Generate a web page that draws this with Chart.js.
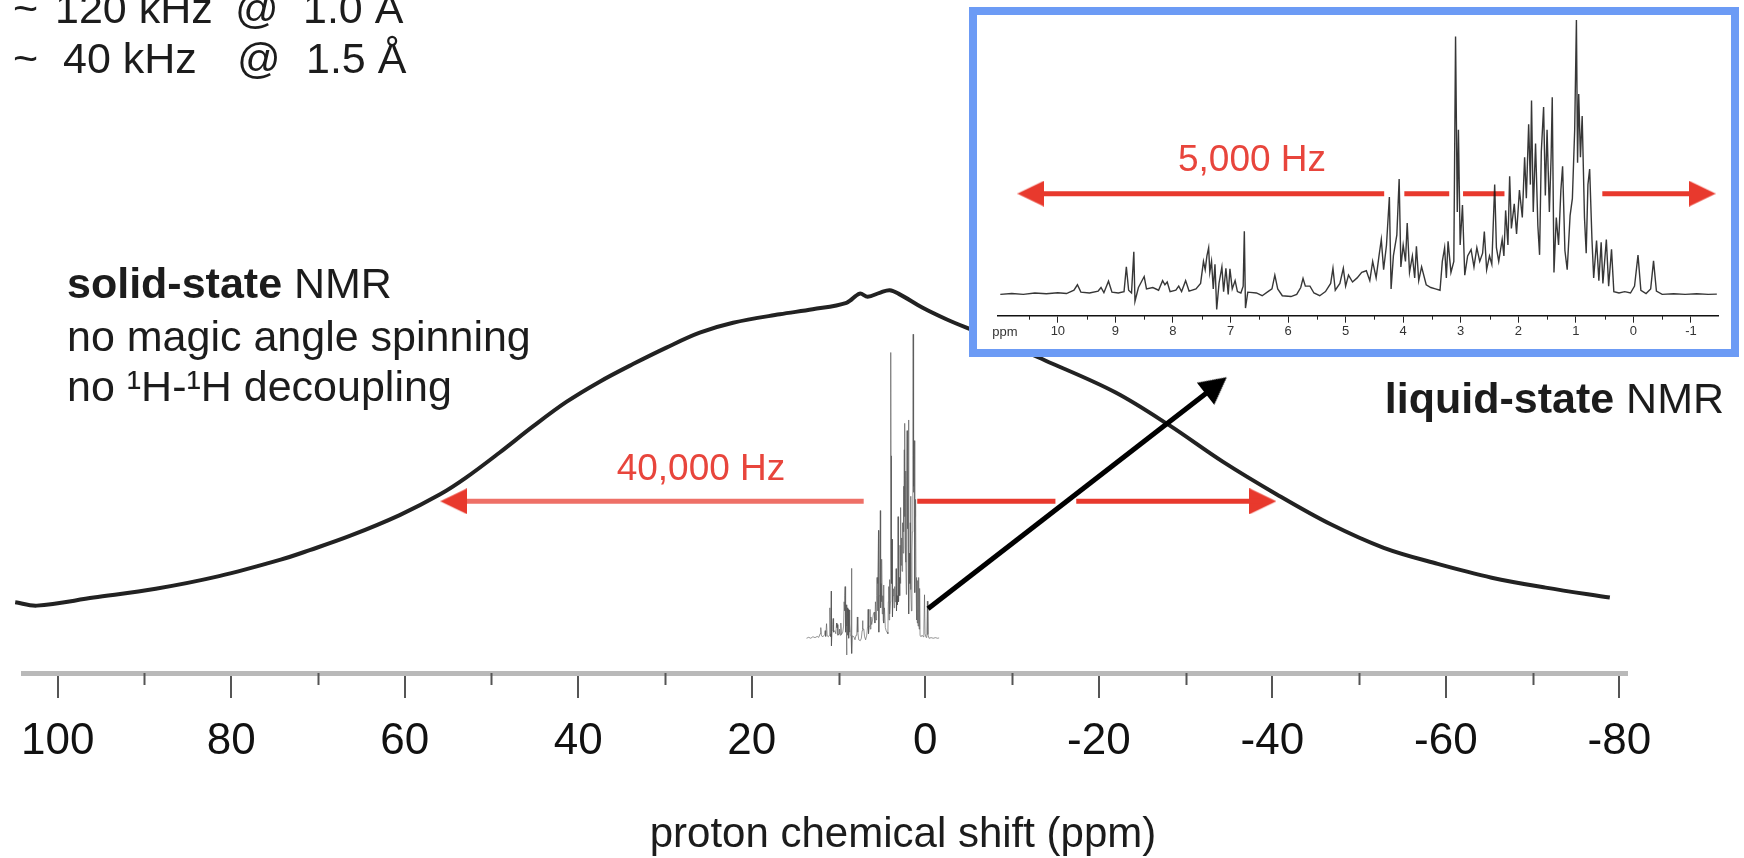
<!DOCTYPE html>
<html>
<head>
<meta charset="utf-8">
<title>Solid-state vs liquid-state proton NMR</title>
<script src="https://cdn.jsdelivr.net/npm/chart.js"></script>
<style>
    body {
        margin: 0;
        background: #fff;
        font-family: 'Liberation Sans', Arial, sans-serif;
    }
    #wrap {
        position: relative;
        width: 1744px;
        height: 858px;
        overflow: hidden;
        background: #fff;
    }
    #mainChart { position: absolute; left: 0; top: 0; }
    #inset {
        position: absolute;
        left: 969px; top: 7px;
        width: 770px; height: 350px;
        box-sizing: border-box;
        border: 8px solid #6c9bf5;
        background: #fff;
        z-index: 2;
    }
    #insetChart { position: absolute; left: 0; top: 0; }
    .txt {
        position: absolute;
        white-space: pre;
        color: #1c1c1c;
        font-size: 43px;
        line-height: 1;
        z-index: 3;
    }
    .red { color: #e8453c; font-size: 37px; text-align: center; width: 300px; }
    b { font-weight: bold; }
</style>
</head>
<body>
<div id="wrap">
    <canvas id="mainChart" width="1744" height="858"></canvas>

    <div id="inset">
        <canvas id="insetChart" width="754" height="334"></canvas>
    </div>

    <!-- top-left numbers -->
    <div class="txt" style="left:13px; top:-13px;">~</div>
    <div class="txt" style="left:55px; top:-13px;">120 kHz</div>
    <div class="txt" style="left:235px; top:-13px;">@</div>
    <div class="txt" style="left:303px; top:-13px;">1.0 Å</div>
    <div class="txt" style="left:13px; top:37px;">~</div>
    <div class="txt" style="left:63px; top:37px;">40 kHz</div>
    <div class="txt" style="left:237px; top:37px;">@</div>
    <div class="txt" style="left:306px; top:37px;">1.5 Å</div>

    <div class="txt" style="left:67px; top:262px;"><b>solid-state</b> NMR</div>
    <div class="txt" style="left:67px; top:315px;">no magic angle spinning</div>
    <div class="txt" style="left:67px; top:365px;">no ¹H-¹H decoupling</div>

    <div class="txt" style="right:20px; top:377px;"><b>liquid-state</b> NMR</div>

    <div class="txt red" style="left:551px; top:449px;">40,000 Hz</div>
    <div class="txt red" style="left:1102px; top:140px;">5,000 Hz</div>

    <div class="txt" style="left:985px; top:325px; width:40px; text-align:center; font-size:13px; color:#333;">ppm</div>

    <div class="txt" style="left:603px; top:812px; width:600px; text-align:center; font-size:42px;">proton chemical shift (ppm)</div>
</div>

<script>
    // broad solid-state line: chemical shift (ppm) and intensity (1 = top of the hump)
    const solidPpm = [104.9, 102.4, 95.85, 88.7, 81.4, 74.3, 70.95, 66.34, 60.58, 55.97, 52.89, 49.05, 45.22,
        41.37, 37.53, 33.69, 29.84, 26.0, 22.16, 16.78, 12.98, 9.09, 7.56, 6.64, 5.26, 4.10, 2.95, 0.30,
        -2.43, -4.74, -9.15, -13.76, -21.83, -28.06, -34.28, -40.47, -46.68, -52.84, -59.06, -65.28, -71.5, -78.9];
    const solidInt = [0.185, 0.176, 0.197, 0.220, 0.253, 0.296, 0.321, 0.358, 0.4125, 0.466, 0.511, 0.576, 0.644,
        0.708, 0.761, 0.807, 0.850, 0.889, 0.915, 0.937, 0.950, 0.967, 0.991, 0.983, 0.993, 1.0, 0.989, 0.954,
        0.924, 0.902, 0.863, 0.817, 0.734, 0.648, 0.552, 0.467, 0.389, 0.327, 0.285, 0.249, 0.223, 0.197];

    // liquid-state spectrum: ppm and intensity (100 = tallest peak)
    const liqPpm = [11.0, 10.8, 10.6, 10.4, 10.2, 10.0, 9.85, 9.72, 9.66, 9.6, 9.45, 9.3, 9.25, 9.2, 9.12, 9.06,
        8.95, 8.85, 8.81, 8.77, 8.72, 8.68, 8.66, 8.6, 8.55, 8.5, 8.46, 8.35, 8.25, 8.18, 8.14, 8.1, 8.05,
        7.95, 7.9, 7.85, 7.78, 7.72, 7.6, 7.52, 7.47, 7.44, 7.41, 7.38, 7.36, 7.33, 7.3, 7.27, 7.24, 7.2,
        7.15, 7.12, 7.08, 7.04, 7.01, 6.97, 6.92, 6.88, 6.82, 6.78, 6.76, 6.74, 6.7, 6.55, 6.45, 6.35, 6.28,
        6.23, 6.18, 6.1, 5.95, 5.85, 5.78, 5.74, 5.7, 5.62, 5.55, 5.45, 5.35, 5.26, 5.22, 5.18, 5.1, 5.04,
        5.0, 4.95, 4.88, 4.8, 4.72, 4.64, 4.58, 4.53, 4.47, 4.42, 4.38, 4.34, 4.29, 4.24, 4.21, 4.17, 4.11,
        4.07, 4.04, 4.0, 3.96, 3.93, 3.89, 3.84, 3.8, 3.77, 3.73, 3.68, 3.6, 3.52, 3.44, 3.36, 3.32, 3.28,
        3.25, 3.22, 3.17, 3.12, 3.09, 3.06, 3.04, 3.01, 2.97, 2.93, 2.88, 2.82, 2.77, 2.72, 2.67, 2.62, 2.59,
        2.55, 2.5, 2.46, 2.41, 2.38, 2.34, 2.28, 2.25, 2.22, 2.18, 2.15, 2.12, 2.07, 2.03, 1.98, 1.93, 1.89,
        1.86, 1.82, 1.79, 1.77, 1.74, 1.7, 1.66, 1.63, 1.6, 1.56, 1.53, 1.5, 1.46, 1.43, 1.41, 1.38, 1.34,
        1.3, 1.26, 1.23, 1.19, 1.15, 1.1, 1.06, 1.02, 0.99, 0.97, 0.95, 0.92, 0.89, 0.85, 0.82, 0.79, 0.76,
        0.72, 0.69, 0.64, 0.6, 0.56, 0.53, 0.47, 0.43, 0.38, 0.34, 0.25, 0.15, 0.05, -0.02, -0.08, -0.13,
        -0.22, -0.3, -0.35, -0.4, -0.5, -0.7, -0.9, -1.1, -1.3, -1.45];
    const liqInt = [0, 0.3, 0, 0.5, 0.2, 0.6, 0.3, 1.5, 3.5, 0.8, 0.5, 1.2, 2.5, 0.6, 4.8, 0.8,
        0.5, 1.0, 10, 1.5, 0.5, 15.5, -2.5, 2.5, 4.5, 6.5, 2, 2.5, 1.5, 5, 3.5, 4.5, 1,
        1.5, 3, 1, 5, 1.2, 2, 4, 12, 9, 14, 17, 8, 12, 2, 11, -5.5, 4,
        10, 1, 9.5, 0, 9.3, 2, 5, 1, 0.5, 3, 23, -5, 0.8, 0.5, -0.5, 1, 2,
        7, 2, -0.5, -0.8, 0, 2.5, 5.8, 3, 3, 0.5, -0.5, 1, 4, 9.5, 1.5, 4, 9.5,
        3, 7, 4.5, 6, 8, 8.6, 5, 12, 6, 14, 20, 9, 18, 35.5, 2, 14, 21.7,
        42, 10, 18, 12, 26, 8, 14, 6, 17.5, 5, 10, 3.5, 2.5, 2, 1.5, 12, 17,
        6, 19.3, 8, 12, 94, 30, 60, 18, 32.6, 7, 14, 16.3, 10, 17, 12, 15, 22.9,
        9, 14, 11, 40, 17, 12, 20, 14, 30.6, 18, 43, 24, 33, 22, 38, 28, 50,
        35, 62, 40, 70.7, 30, 55, 25, 14.4, 52, 68.3, 36, 60, 30, 50, 71.8, 8, 28,
        18, 38, 46.7, 16, 9, 28.7, 35, 60, 100, 48, 73, 50, 65, 28, 15, 40, 45.7,
        20, 6, 19.6, 5, 19, 4, 20, 3, 16.4, 1, 0.5, 1, 0.5, 3, 14.3, 1.5,
        0.3, 2, 12.2, 1.2, 0, 0.2, 0, 0.2, 0, 0.1];

    const mainTickValues = [100, 80, 60, 40, 20, 0, -20, -40, -60, -80];
    const insetTickValues = [10, 9, 8, 7, 6, 5, 4, 3, 2, 1, 0, -1];

    // 40,000 Hz arrow (ppm, intensity on the solid-state scale)
    const hzLeftPpm = [54.35, 7.1];
    const hzRightPpm = [0.93, -15.0, null, -17.4, -38.91];
    const hzLevel = 0.4485;
    // black arrow from the narrow spectrum to the inset
    const pointerPpm = [-0.31, -33.53];
    const pointerInt = [0.168, 0.751];
    // 5,000 Hz arrow inside the inset (ppm, intensity)
    const insetArrowPpm = [10.47, 4.33, null, 3.98, 3.20, null, 2.96, 2.24, null, 0.54, -1.196];
    const insetArrowLevel = 36.7;

    const FONT = "'Liberation Sans', Arial, sans-serif";
    const RED = '#e8392d';

    function makeHead(color, w, h) {
        const c = document.createElement('canvas');
        c.width = w; c.height = h;
        const g = c.getContext('2d');
        g.fillStyle = color;
        g.beginPath();
        g.moveTo(w / 2, 0);
        g.lineTo(w, h);
        g.lineTo(0, h);
        g.closePath();
        g.fill();
        return c;
    }
    const redHead = makeHead(RED, 26, 27);
    const blackHead = makeHead('#000', 28, 27);

    function pts(xs, ys) {
        return xs.map((x, i) => (x === null ? { x: NaN, y: null } : { x: x, y: Array.isArray(ys) ? ys[i] : ys }));
    }

    function isMult(v, step) {
        const r = v / step;
        return Math.abs(r - Math.round(r)) < 1e-6;
    }

    // short ticks between the labelled ones
    function minorTicks(majorStep, len, color, width, maxVal) {
        return {
            id: 'minorTicks',
            afterDraw(chart) {
                const s = chart.scales.x;
                const ctx = chart.ctx;
                ctx.save();
                ctx.strokeStyle = color;
                ctx.lineWidth = width;
                s.ticks.forEach(t => {
                    if (isMult(t.value, majorStep) || t.value > maxVal) return;
                    const px = Math.round(s.getPixelForValue(t.value)) + 0.5;
                    ctx.beginPath();
                    ctx.moveTo(px, s.top);
                    ctx.lineTo(px, s.top + len);
                    ctx.stroke();
                });
                ctx.restore();
            }
        };
    }

    new Chart(document.getElementById('mainChart'), {
        type: 'scatter',
        data: {
            datasets: [
                {   // black pointer
                    data: pts(pointerPpm, pointerInt), showLine: true,
                    borderColor: '#000', borderWidth: 5, pointRadius: 0
                },
                {
                    data: pts([pointerPpm[1]], [pointerInt[1]]), pointStyle: blackHead,
                    rotation: 52, pointRadius: 1
                },
                {
                    data: pts(hzRightPpm, hzLevel), showLine: true, spanGaps: false,
                    borderColor: RED, borderWidth: 5, pointRadius: 0
                },
                {
                    data: pts([hzRightPpm[4]], hzLevel), pointStyle: redHead, rotation: 90, pointRadius: 1
                },
                {
                    data: pts([hzLeftPpm[0]], hzLevel), pointStyle: redHead, rotation: -90, pointRadius: 1
                },
                {
                    data: pts(hzLeftPpm, hzLevel), showLine: true,
                    borderColor: 'rgba(232, 57, 45, 0.72)', borderWidth: 5, pointRadius: 0
                },
                {   // narrow liquid-state spectrum at the bottom
                    data: pts(liqPpm, liqInt), showLine: true, xAxisID: 'x2', yAxisID: 'y2',
                    borderColor: 'rgba(80, 80, 80, 0.6)', borderWidth: 1, pointRadius: 0
                },
                {   // broad solid-state line
                    data: pts(solidPpm, solidInt), showLine: true, tension: 0.35, clip: false,
                    borderColor: '#222', borderWidth: 4, pointRadius: 0
                }
            ]
        },
        options: {
            responsive: false,
            animation: false,
            devicePixelRatio: 1,
            layout: { padding: { left: 23, right: 117, top: 0, bottom: 73.2 } },
            plugins: { legend: { display: false }, tooltip: { enabled: false } },
            scales: {
                x: {
                    type: 'linear', reverse: true, min: -80.88, max: 104.0,
                    border: { display: true, color: '#b9b9b9', width: 5 },
                    grid: {
                        display: true, drawOnChartArea: false, tickLength: 25, lineWidth: 2,
                        tickColor: c => (isMult(c.tick.value, 20) ? '#555' : 'rgba(0,0,0,0)')
                    },
                    ticks: {
                        stepSize: 10, includeBounds: false, autoSkip: false, maxRotation: 0,
                        padding: 17, color: '#111', font: { family: FONT, size: 44 },
                        callback: v => (mainTickValues.includes(v) ? String(v) : '')
                    }
                },
                y: { display: false, min: 0, max: 1.7449 },
                x2: { display: false, type: 'linear', reverse: true, min: -66.04, max: 84.57 },
                y2: { display: false, min: -11.43, max: 208.3 }
            }
        },
        plugins: [minorTicks(20, 12, '#555', 2, 1000)]
    });

    new Chart(document.getElementById('insetChart'), {
        type: 'scatter',
        data: {
            datasets: [
                {
                    data: pts([insetArrowPpm[10]], insetArrowLevel), pointStyle: redHead, rotation: 90, pointRadius: 1
                },
                {
                    data: pts([insetArrowPpm[0]], insetArrowLevel), pointStyle: redHead, rotation: -90, pointRadius: 1
                },
                {
                    data: pts(liqPpm, liqInt), showLine: true, clip: false,
                    borderColor: 'rgba(20, 20, 20, 0.85)', borderWidth: 1.4, pointRadius: 0
                },
                {
                    data: pts(insetArrowPpm, insetArrowLevel), showLine: true, spanGaps: false,
                    borderColor: RED, borderWidth: 5, pointRadius: 0
                }
            ]
        },
        options: {
            responsive: false,
            animation: false,
            devicePixelRatio: 1,
            layout: { padding: { left: 21, right: 13, top: 0, bottom: 8.7 } },
            plugins: { legend: { display: false }, tooltip: { enabled: false } },
            scales: {
                x: {
                    type: 'linear', reverse: true, min: -1.47, max: 11.04,
                    border: { display: true, color: '#111', width: 1.5 },
                    grid: {
                        display: true, drawOnChartArea: false, tickLength: 7, lineWidth: 1,
                        tickColor: c => (isMult(c.tick.value, 1) && c.tick.value <= 10 ? '#222' : 'rgba(0,0,0,0)')
                    },
                    ticks: {
                        stepSize: 0.5, includeBounds: false, autoSkip: false, maxRotation: 0,
                        padding: 1, color: '#333', font: { family: FONT, size: 13 },
                        callback: v => (insetTickValues.includes(v) ? String(v) : '')
                    }
                },
                y: { display: false, min: -7.78, max: 100 }
            }
        },
        plugins: [minorTicks(1, 4, '#222', 1, 10.6)]
    });
</script>
</body>
</html>
